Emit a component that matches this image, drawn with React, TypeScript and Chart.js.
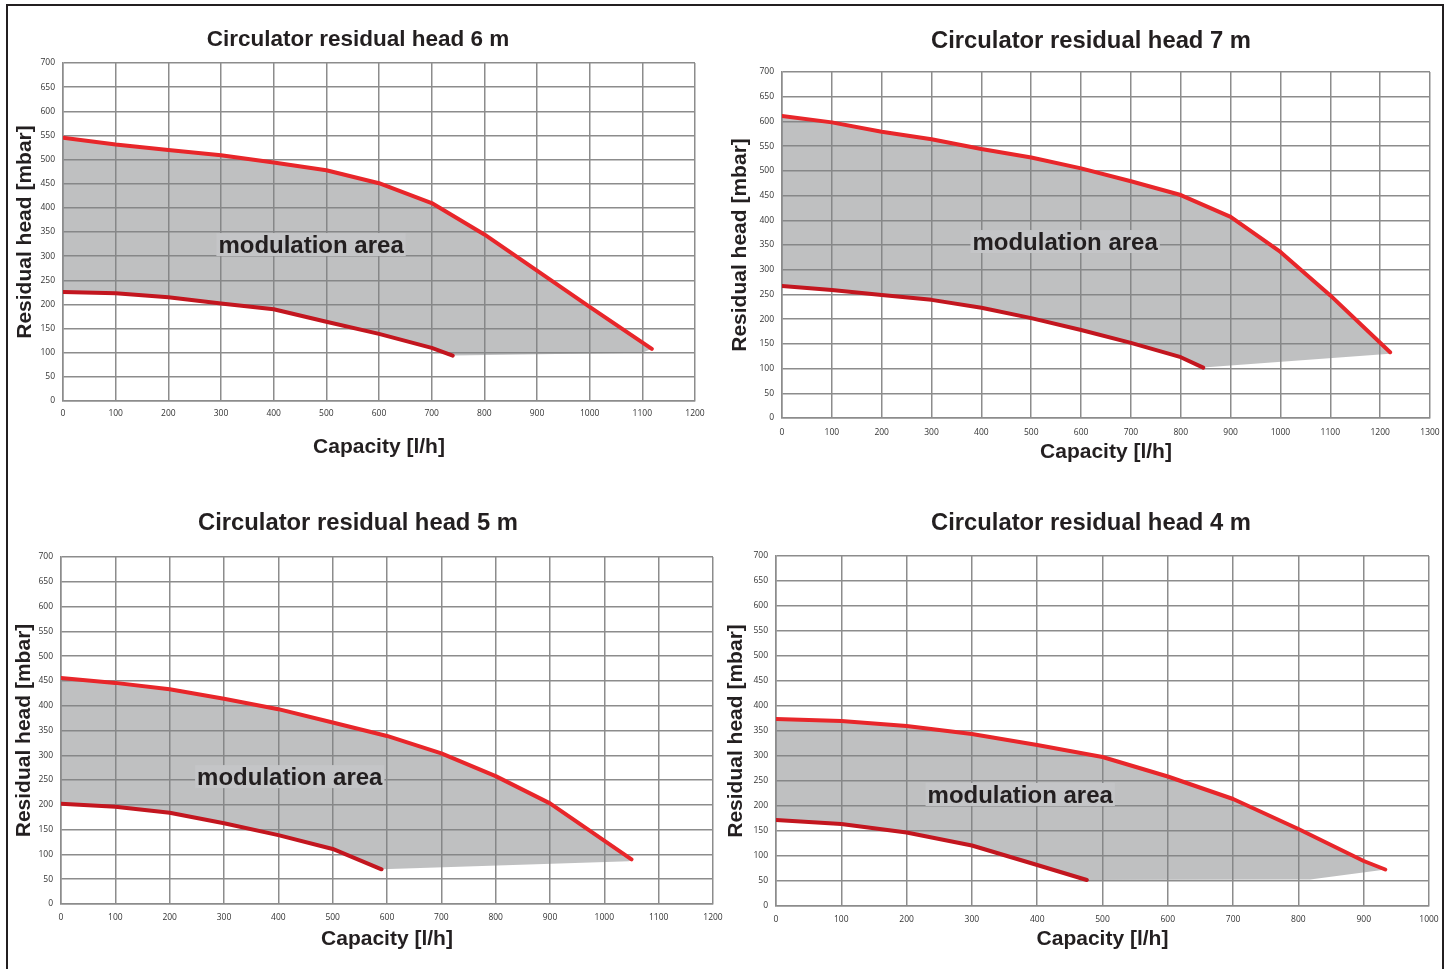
import React, { useEffect, useRef } from "react";
import { Chart, registerables } from "chart.js";
Chart.register(...registerables);

// ---------- data ----------
const cap6Upper = [0, 100, 200, 300, 400, 500, 600, 700, 800, 900, 1000, 1118];
const head6Upper = [545, 531, 520, 509, 494, 478, 451, 410, 345, 270, 195, 108];
const cap6Lower = [0, 100, 200, 300, 400, 500, 600, 700, 740];
const head6Lower = [226, 223, 215, 202, 190, 164, 139, 110, 94];
const cap6Edge = [740, 1100, 1118];
const head6Edge = [97, 100, 108];

const cap7Upper = [0, 100, 200, 300, 400, 500, 600, 700, 800, 900, 1000, 1100, 1220];
const head7Upper = [611, 598, 579, 564, 544, 527, 505, 479, 451, 407, 336, 248, 133];
const cap7Lower = [0, 100, 200, 300, 400, 500, 600, 700, 800, 845];
const head7Lower = [267, 259, 249, 239, 223, 202, 178, 152, 123, 102];
const cap7Edge = [845, 1220];
const head7Edge = [104, 130];

const cap5Upper = [0, 100, 200, 300, 400, 500, 600, 700, 800, 900, 1050];
const head5Upper = [456, 446, 433, 414, 393, 366, 339, 304, 258, 203, 90];
const cap5Lower = [0, 100, 200, 300, 400, 500, 590];
const head5Lower = [202, 196, 184, 163, 139, 111, 70];
const cap5Edge = [590, 1045, 1050];
const head5Edge = [72, 86, 88];

const cap4Upper = [0, 100, 200, 300, 400, 500, 600, 700, 800, 900, 933];
const head4Upper = [374, 370, 360, 344, 322, 298, 259, 214, 154, 90, 73];
const cap4Lower = [0, 100, 200, 300, 400, 476];
const head4Lower = [172, 164, 147, 121, 82, 52];
const cap4Edge = [476, 818, 922, 933];
const head4Edge = [53, 53, 71, 73];

const titles = [
  "Circulator residual head 6 m",
  "Circulator residual head 7 m",
  "Circulator residual head 5 m",
  "Circulator residual head 4 m",
];
const xAxisTitle = "Capacity [l/h]";
const yAxisTitle = "Residual head [mbar]";
const areaLabel = "modulation area";
const xMaxes = [1200, 1300, 1200, 1000];
const labelPos = [
  [471, 323],
  [568, 356],
  [421, 256],
  [374, 222],
];

// ---------- styling ----------
const FONT = 'Arial, "Liberation Sans", Helvetica, sans-serif';
const TICK_FONT = '"Open Sans", "DejaVu Sans", sans-serif';
const TEXT = "#231f20";
const GRID = "#8c8c8c";
const RED_UP = "#e8262a";
const RED_LOW = "#c3161f";
const FILL = "rgba(128,129,132,0.5)";

const zip = (xs: number[], ys: number[]) => xs.map((x, i) => ({ x, y: ys[i] }));

type Layout = {
  left: number; top: number; width: number; height: number;
  yW: number; xH: number; rW: number; tSize: number;
  tTop: number; tBot: number; yTitlePad: number; xTitlePad: number; tickPad: number;
};

const layouts: Layout[] = [
  { left: 0, top: 10, width: 716, height: 460, yW: 63, xH: 69, rW: 21, tSize: 22.5, tTop: 16.5, tBot: 9.5, yTitlePad: 12.4, xTitlePad: 10.4, tickPad: 7 },
  { left: 720, top: 10, width: 742, height: 470, yW: 62, xH: 62, rW: 32, tSize: 23.8, tTop: 16.8, tBot: 16.6, yTitlePad: 7.4, xTitlePad: 15.4, tickPad: 9 },
  { left: -15, top: 490, width: 746, height: 475, yW: 76, xH: 61, rW: 18, tSize: 23.8, tTop: 18.8, tBot: 19.6, yTitlePad: 26.4, xTitlePad: 13.4, tickPad: 8 },
  { left: 720, top: 490, width: 742, height: 475, yW: 56, xH: 59, rW: 33, tSize: 23.8, tTop: 18.8, tBot: 18.6, yTitlePad: 3.4, xTitlePad: 13.4, tickPad: 8 },
];

const seriesSets = [
  { up: zip(cap6Upper, head6Upper), low: zip(cap6Lower, head6Lower), edge: zip(cap6Edge, head6Edge) },
  { up: zip(cap7Upper, head7Upper), low: zip(cap7Lower, head7Lower), edge: zip(cap7Edge, head7Edge) },
  { up: zip(cap5Upper, head5Upper), low: zip(cap5Lower, head5Lower), edge: zip(cap5Edge, head5Edge) },
  { up: zip(cap4Upper, head4Upper), low: zip(cap4Lower, head4Lower), edge: zip(cap4Edge, head4Edge) },
];

function Panel({ idx }: { idx: number }) {
  const ref = useRef<HTMLCanvasElement | null>(null);
  useEffect(() => {
    const L = layouts[idx];
    const s = seriesSets[idx];
    const boundary = [...s.low, ...s.edge.slice(1)];
    const [lx, ly] = labelPos[idx];
    const labelPlugin = {
      id: "modLabel" + idx,
      afterDatasetsDraw(chart: any) {
        const ctx = chart.ctx;
        const px = chart.scales.x.getPixelForValue(lx);
        const py = chart.scales.y.getPixelForValue(ly);
        ctx.save();
        ctx.font = `bold 24px ${FONT}`;
        const w = ctx.measureText(areaLabel).width;
        ctx.fillStyle = "#c4c5c7";
        ctx.fillRect(px - w / 2 - 2, py - 12, w + 4, 23);
        ctx.fillStyle = TEXT;
        ctx.textAlign = "center";
        ctx.textBaseline = "middle";
        ctx.fillText(areaLabel, px, py + 1);
        ctx.restore();
      },
    };
    const common = { pointRadius: 0, tension: 0, xAxisID: "x", yAxisID: "y" };
    const chart = new Chart(ref.current as HTMLCanvasElement, {
      type: "line",
      data: {
        datasets: [
          {
            ...common, data: s.up, borderColor: RED_UP, borderWidth: 4,
            fill: false, borderCapStyle: "round", borderJoinStyle: "round",
          },
          {
            ...common, data: s.low, borderColor: RED_LOW, borderWidth: 4,
            fill: false, borderCapStyle: "round", borderJoinStyle: "round",
          },
          {
            ...common, data: s.up, borderWidth: 0, borderColor: "rgba(0,0,0,0)",
            backgroundColor: FILL, fill: "+1",
          },
          {
            ...common, data: boundary, borderWidth: 0, borderColor: "rgba(0,0,0,0)",
            fill: false,
          },
        ] as any,
      },
      options: {
        responsive: false,
        animation: false,
        events: [],
        layout: { padding: 0 },
        plugins: {
          legend: { display: false },
          tooltip: { enabled: false },
          title: {
            display: true,
            text: titles[idx],
            color: TEXT,
            font: { family: FONT, size: L.tSize, weight: "bold", lineHeight: 1.2 },
            padding: { top: L.tTop, bottom: L.tBot },
          },
        },
        scales: {
          x: {
            type: "linear",
            position: "bottom",
            min: 0,
            max: xMaxes[idx],
            afterFit: (sc: any) => { sc.height = L.xH; },
            ticks: {
              stepSize: 100, color: "#333", padding: L.tickPad, maxRotation: 0, autoSkip: false,
              font: { family: TICK_FONT, size: 8.5 },
              callback: (v: any) => String(v),
            },
            grid: { color: GRID, lineWidth: 1.5, drawTicks: false },
            border: { color: GRID, width: 1.5 },
            title: {
              display: true, text: xAxisTitle, color: TEXT,
              font: { family: FONT, size: 21, weight: "bold", lineHeight: 1.2 },
              padding: { top: 0, bottom: L.xTitlePad },
            },
          },
          y: {
            type: "linear",
            position: "left",
            min: 0,
            max: 700,
            afterFit: (sc: any) => { sc.width = L.yW; },
            ticks: {
              stepSize: 50, color: "#333", padding: 8, autoSkip: false,
              font: { family: TICK_FONT, size: 8.5 },
              callback: (v: any) => String(v),
            },
            grid: { color: GRID, lineWidth: 1.5, drawTicks: false },
            border: { color: GRID, width: 1.5 },
            title: {
              display: true, text: yAxisTitle, color: TEXT,
              font: { family: FONT, size: 21, weight: "bold", lineHeight: 1.2 },
              padding: { top: L.yTitlePad, bottom: 0 },
            },
          },
          yRight: {
            type: "linear",
            position: "right",
            min: 0,
            max: 700,
            afterFit: (sc: any) => { sc.width = L.rW; },
            ticks: { display: false },
            grid: { display: false, drawOnChartArea: false, drawTicks: false },
            border: { display: false },
            title: { display: false },
          },
        },
      } as any,
      plugins: [labelPlugin],
    });
    return () => chart.destroy();
  }, [idx]);
  const L = layouts[idx];
  return (
    <canvas
      ref={ref}
      width={L.width}
      height={L.height}
      style={{ position: "absolute", left: L.left, top: L.top, width: L.width, height: L.height }}
    />
  );
}

export default function App() {
  return (
    <div
      style={{
        position: "absolute", left: 0, top: 0, width: 1449, height: 969,
        overflow: "hidden", background: "#fff",
      }}
    >
      {[0, 1, 2, 3].map((i) => (
        <Panel key={i} idx={i} />
      ))}
      <div
        style={{
          position: "absolute", left: 6, top: 4, width: 1438, height: 1000,
          border: "2px solid #231f20", boxSizing: "border-box", pointerEvents: "none",
        }}
      />
    </div>
  );
}
